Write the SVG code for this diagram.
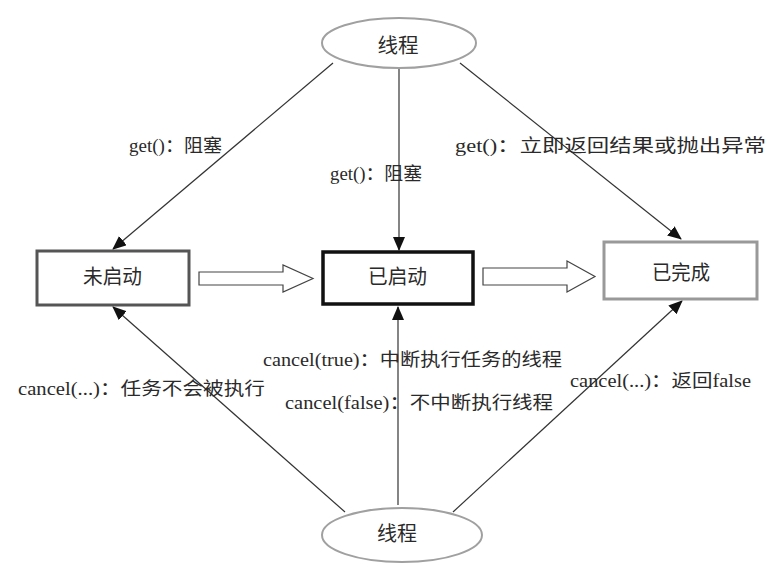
<svg xmlns="http://www.w3.org/2000/svg" width="779" height="572" viewBox="0 0 779 572">
<style>
  .lbl { font-family: "Liberation Serif", "Noto Sans CJK SC", serif; font-size: 18px; fill: #2a2a2a; }
  .node { font-family: "Liberation Serif", "Noto Sans CJK SC", serif; font-size: 20px; fill: #2a2a2a; text-anchor: middle; }
  .edge { stroke: #333; stroke-width: 1.2; fill: none; marker-end: url(#ah); }
  .ell { fill: #fff; stroke: #a0a0a0; stroke-width: 2; }
  .hollow { fill: #fff; stroke: #444; stroke-width: 1.2; }
</style>
<defs>
  <marker id="ah" markerWidth="14" markerHeight="12" refX="13" refY="6" orient="auto" markerUnits="userSpaceOnUse">
    <path d="M0,0 L14,6 L0,12 Z" fill="#111"/>
  </marker>
</defs>
<rect width="779" height="572" fill="#fff"/>

<g id="connectors">
  <line class="edge" x1="333" y1="63" x2="113" y2="249"/>
  <line class="edge" x1="399" y1="68" x2="399" y2="250"/>
  <line class="edge" x1="460" y1="63" x2="681" y2="239"/>
  <line class="edge" x1="345" y1="512" x2="113" y2="307"/>
  <line class="edge" x1="398" y1="505" x2="398" y2="307"/>
  <line class="edge" x1="453" y1="512" x2="682" y2="301"/>
  <path class="hollow" d="M199,272 L283,272 L283,265 L313,278.5 L283,292 L283,285 L199,285 Z"/>
  <path class="hollow" d="M483,268 L567,268 L567,261 L595,276.5 L567,292 L567,285 L483,285 Z"/>
</g>

<g id="thread-top">
  <ellipse class="ell" cx="399" cy="43" rx="77" ry="25"/>
  <text class="node" x="398" y="53" textLength="41" lengthAdjust="spacingAndGlyphs">线程</text>
</g>

<g id="thread-bottom">
  <ellipse class="ell" cx="402" cy="535" rx="80" ry="27"/>
  <text class="node" x="397" y="541" textLength="40" lengthAdjust="spacingAndGlyphs">线程</text>
</g>

<g id="not-started">
  <rect x="37" y="251" width="152" height="54" fill="#fff" stroke="#555" stroke-width="3"/>
  <text class="node" x="112.5" y="284" textLength="59" lengthAdjust="spacingAndGlyphs">未启动</text>
</g>

<g id="started">
  <rect x="323" y="252" width="150" height="52" fill="#fff" stroke="#111" stroke-width="3.5"/>
  <text class="node" x="397.5" y="284" textLength="59" lengthAdjust="spacingAndGlyphs">已启动</text>
</g>

<g id="done">
  <rect x="604" y="242" width="153" height="57" fill="#fff" stroke="#999" stroke-width="3"/>
  <text class="node" x="681" y="280" textLength="58" lengthAdjust="spacingAndGlyphs">已完成</text>
</g>

<g id="labels">
  <text class="lbl" x="129" y="152" textLength="93" lengthAdjust="spacingAndGlyphs">get()：阻塞</text>
  <text class="lbl" x="330" y="180" textLength="92" lengthAdjust="spacingAndGlyphs">get()：阻塞</text>
  <text class="lbl" x="455" y="152" textLength="311" lengthAdjust="spacingAndGlyphs">get()：立即返回结果或抛出异常</text>
  <text class="lbl" x="263" y="366" textLength="299" lengthAdjust="spacingAndGlyphs">cancel(true)：中断执行任务的线程</text>
  <text class="lbl" x="18" y="395" textLength="247" lengthAdjust="spacingAndGlyphs">cancel(...)：任务不会被执行</text>
  <text class="lbl" x="285" y="409" textLength="268" lengthAdjust="spacingAndGlyphs">cancel(false)：不中断执行线程</text>
  <text class="lbl" x="570" y="387" textLength="181" lengthAdjust="spacingAndGlyphs">cancel(...)：返回false</text>
</g>
</svg>
